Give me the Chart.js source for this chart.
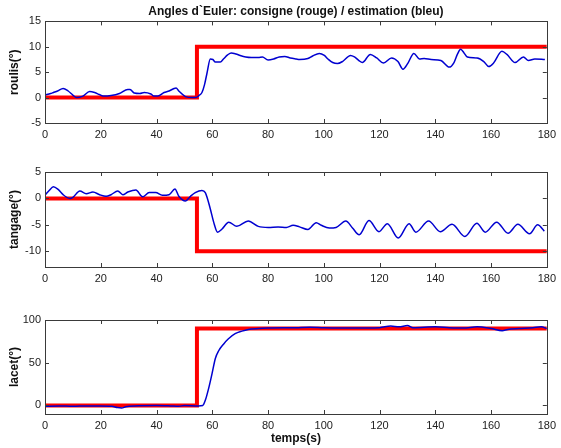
<!DOCTYPE html>
<html>
<head>
<meta charset="utf-8">
<script src="https://cdn.jsdelivr.net/npm/chart.js@4.4.1/dist/chart.umd.min.js"></script>
<style>
  html, body { margin: 0; padding: 0; background: #fff; }
  #wrap { position: relative; width: 561px; height: 448px; overflow: hidden; }
  .plot { position: absolute; left: 0; width: 561px; }
</style>
</head>
<body>
<div id="wrap">
  <div class="plot" style="top:0;height:140px"><canvas id="c-roulis"></canvas></div>
  <div class="plot" style="top:160px;height:125px"><canvas id="c-tangage"></canvas></div>
  <div class="plot" style="top:308px;height:140px"><canvas id="c-lacet"></canvas></div>
</div>
<script>
// --- Data ---
const timeTicks = [0, 20, 40, 60, 80, 100, 120, 140, 160, 180];
const roulisTicks = [-5, 0, 5, 10, 15];
const tangageTicks = [-10, -5, 0, 5];
const lacetTicks = [0, 50, 100];

// consigne (setpoint): a step at t = 54.5 s
const tConsigne = [0, 54.5, 54.5, 180];
const roulisConsigne = [0, 0, 10, 10];
const tangageConsigne = [0, 0, -10, -10];
const lacetConsigne = [0, 0, 90, 90];

// estimation (blue)
const tRoulis = [0, 2, 3, 4.5, 6.5, 8.3, 10, 11.3, 13.6, 16, 17.8, 19.5, 20.8, 23.7, 26.7, 29.7, 30.5, 32,
  34, 35.6, 38, 39.1, 40.5, 42.7, 44.5, 46.3, 47, 48, 50.4, 52.8, 54.5, 55.2, 56.3, 57.2, 58.1, 59.3, 60.2, 61.1,
  62.9, 64, 65.5, 66.8, 68.5, 70, 72, 74, 76.5, 78, 80, 82, 84, 86, 88, 90.1, 91.3, 94.3, 96, 98.4, 100.2,
  101.5, 103.2, 104.9, 106.7, 109.6, 111, 112.6, 113.8, 116.7, 119, 121.4, 124.3, 126.6, 128.4, 130.2, 132.3,
  134.3, 136, 138.5, 142, 145, 146.7, 147.9, 149.1, 150.3, 151.5, 155, 157.4, 159.2, 160.9, 163.9, 165.7,
  168.6, 171.6, 173.4, 175.7, 179.3];
const roulisEst = [0.5, 0.8, 1.0, 1.3, 1.8, 1.3, 0.5, 0.0, 0.3, 1.2, 1.0, 0.6, 0.3, 0.4, 0.8, 1.6, 1.6, 0.9,
  0.8, 1.0, 0.7, 0.3, 0.3, 1.0, 1.3, 1.8, 1.9, 1.3, 0.2, 0.0, 0.1, 0.4, 1.0, 2.5, 4.8, 7.6, 7.5, 7.0,
  7.0, 7.6, 8.4, 8.8, 8.6, 8.3, 8.0, 7.9, 7.9, 8.0, 7.4, 7.6, 8.0, 8.1, 7.8, 7.6, 7.5, 7.7, 8.2, 8.7, 8.3,
  7.6, 6.9, 6.7, 7.1, 8.3, 8.0, 7.3, 6.9, 8.5, 7.8, 6.8, 7.8, 7.1, 5.6, 6.8, 8.7,
  7.6, 7.7, 7.5, 7.3, 6.0, 6.9, 8.5, 9.5, 8.8, 8.0, 7.8, 7.1, 6.1, 6.8, 9.1, 8.5,
  6.9, 8.0, 7.3, 7.6, 7.5];

const tTangage = [0, 1.5, 3, 4.7, 6.5, 8.9, 10, 12.5, 14.8, 17.2, 19.6, 21.9, 23.7, 26.1, 27.9, 29.7, 32.6,
  35, 37.4, 39.7, 42.1, 44.5, 46.6, 48, 50.4, 52.2, 53.9, 56.3, 57.5, 59.3, 60.5, 61.9, 63.5, 65.9, 68.8,
  72.9, 76.5, 80.1, 83.6, 86.6, 89, 91.3, 94.3, 97.3, 99.1, 102, 104.4, 107.9, 110.3, 112.7, 116.2, 119.8,
  122.8, 126.7, 130.6, 133, 137.6, 141.8, 146, 150.6, 154.9, 157.9, 162, 166.1, 169.6, 173.8, 176.7, 179.1];
const tangageEst = [0.6, 1.5, 2.2, 1.7, 0.7, 0.0, 0.2, 1.4, 0.9, 1.2, 0.7, 0.4, 0.7, 1.4, 0.7, 1.2, 1.6,
  0.3, 1.1, 1.1, 0.6, 0.7, 1.8, 0.4, -0.5, 0.4, 1.1, 1.5, 1.1, -2.0, -4.5, -6.4, -5.8, -4.5, -5.3,
  -4.3, -5.3, -5.5, -5.4, -5.5, -5.1, -5.4, -5.9, -4.6, -5.1, -5.6, -5.5, -4.3, -5.6, -6.9, -4.2, -6.3,
  -4.8, -7.5, -4.8, -6.4, -4.3, -6.3, -4.9, -7.2, -4.7, -6.4, -4.5, -6.6, -4.9, -6.7, -5.0, -6.2];

const tLacet = [0, 5, 10, 15, 20, 24, 26, 27.5, 29, 32, 40, 45, 48, 50, 55, 56.6, 57.5, 58.7, 59.9, 61.1,
  62.3, 64.1, 65.8, 68.2, 70.6, 72.9, 76.5, 80, 90, 95, 100, 110, 120, 124, 127, 130, 132, 140, 145, 150,
  155, 160, 164, 166, 170, 175, 178, 180];
const lacetEst = [-1, -0.5, -1, -0.5, -0.5, -1, -2.5, -3, -1.5, -0.5, 0, -0.5, -1, 0, -0.5, 0, 6, 20, 37, 55,
  64, 72, 78, 84, 87, 89, 90, 90.5, 91, 91.5, 91, 90.5, 91, 93, 92, 93.5, 91, 92, 91, 90.5,
  92, 90, 87.5, 89, 90, 91, 92, 90];

// --- Style ---
const BLUE = '#0000d0';
const RED = '#ff0000';
const BOX = '#3a3a3a';
const FONT = "'Liberation Sans', Arial, sans-serif";

function pts(xs, ys) { return xs.map((x, i) => ({ x, y: ys[i] })); }

// MATLAB-style box with inward tick marks on all four sides.
const boxPlugin = {
    id: 'box',
    afterDraw(chart) {
        const { ctx, chartArea: a, scales } = chart;
        ctx.save();
        ctx.strokeStyle = BOX;
        ctx.lineWidth = 1;
        ctx.strokeRect(Math.round(a.left) + 0.5, Math.round(a.top) + 0.5,
            Math.round(a.right - a.left), Math.round(a.bottom - a.top));
        ctx.beginPath();
        for (const t of scales.x.ticks) {
            const x = Math.round(scales.x.getPixelForValue(t.value)) + 0.5;
            ctx.moveTo(x, a.bottom); ctx.lineTo(x, a.bottom - 4);
            ctx.moveTo(x, a.top); ctx.lineTo(x, a.top + 4);
        }
        for (const t of scales.y.ticks) {
            const y = Math.round(scales.y.getPixelForValue(t.value)) + 0.5;
            ctx.moveTo(a.left, y); ctx.lineTo(a.left + 4, y);
            ctx.moveTo(a.right, y); ctx.lineTo(a.right - 4, y);
        }
        ctx.stroke();
        ctx.restore();
    },
};

function makePlot(id, opts) {
    const datasets = [
        { data: pts(opts.tEst, opts.est), borderColor: BLUE, borderWidth: 1.5, cubicInterpolationMode: 'monotone' },
        { data: pts(tConsigne, opts.consigne), borderColor: RED, borderWidth: 4, borderJoinStyle: 'miter' },
    ];
    return new Chart(document.getElementById(id), {
        type: 'line',
        data: { datasets },
        options: {
            responsive: true,
            maintainAspectRatio: false,
            animation: false,
            events: [],
            parsing: false,
            elements: { point: { radius: 0 }, line: { tension: 0, fill: false } },
            layout: { padding: { top: opts.padTop, right: 10, left: 0, bottom: 0 } },
            plugins: {
                legend: { display: false },
                tooltip: { enabled: false },
                title: opts.title ? {
                    display: true, text: opts.title, fullSize: false, color: '#111',
                    font: { family: FONT, size: 12, weight: 'bold' }, padding: { top: 4, bottom: 3 },
                } : { display: false },
            },
            scales: {
                x: {
                    type: 'linear', min: 0, max: 180,
                    afterBuildTicks: (s) => { s.ticks = timeTicks.map((v) => ({ value: v })); },
                    afterFit: (s) => { s.height = opts.xHeight; },
                    grid: { display: false, drawTicks: false },
                    border: { display: false },
                    ticks: { color: '#222', font: { family: FONT, size: 11 }, padding: 5, maxRotation: 0 },
                    title: opts.xTitle ? {
                        display: true, text: opts.xTitle, color: '#111',
                        font: { family: FONT, size: 12, weight: 'bold' }, padding: { top: 0, bottom: 2 },
                    } : { display: false },
                },
                y: {
                    type: 'linear', min: opts.yMin, max: opts.yMax,
                    afterBuildTicks: (s) => { s.ticks = opts.yTicks.map((v) => ({ value: v })); },
                    afterFit: (s) => { s.width = 45; },
                    grid: { display: false, drawTicks: false },
                    border: { display: false },
                    ticks: { color: '#222', font: { family: FONT, size: 11 }, padding: 4 },
                    title: {
                        display: true, text: opts.yTitle, color: '#111',
                        font: { family: FONT, size: 12, weight: 'bold' }, padding: { top: 7, bottom: 0 },
                    },
                },
            },
        },
        plugins: [boxPlugin],
    });
}

makePlot('c-roulis', {
    tEst: tRoulis, est: roulisEst, consigne: roulisConsigne,
    yMin: -5, yMax: 15, yTicks: roulisTicks, yTitle: 'roulis(°)',
    title: "Angles d`Euler: consigne (rouge) / estimation (bleu)", padTop: 0, xHeight: 17,
});
makePlot('c-tangage', {
    tEst: tTangage, est: tangageEst, consigne: tangageConsigne,
    yMin: -13, yMax: 5, yTicks: tangageTicks, yTitle: 'tangage(°)',
    padTop: 12, xHeight: 18,
});
makePlot('c-lacet', {
    tEst: tLacet, est: lacetEst, consigne: lacetConsigne,
    yMin: -10, yMax: 100, yTicks: lacetTicks, yTitle: 'lacet(°)',
    padTop: 12, xHeight: 34, xTitle: 'temps(s)',
});
</script>
</body>
</html>
